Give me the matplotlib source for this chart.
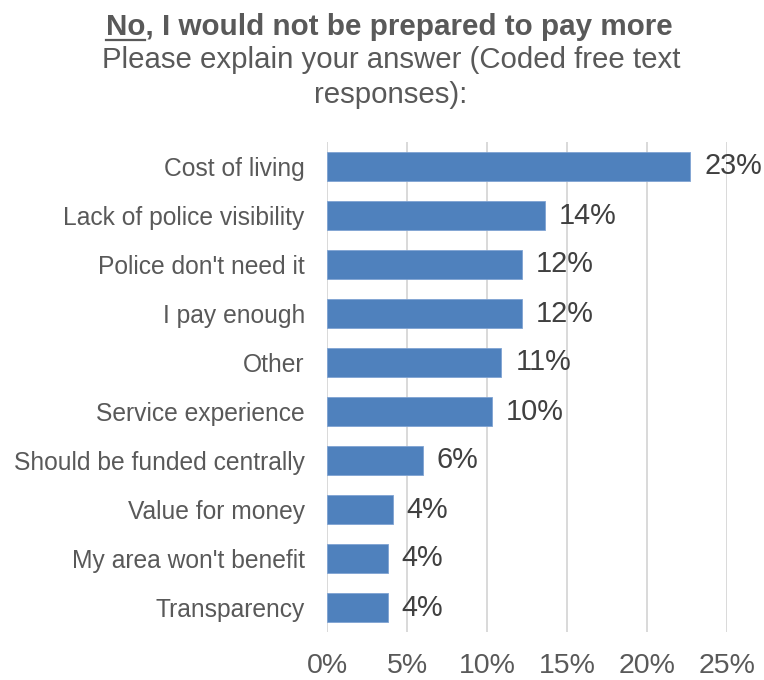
import matplotlib
matplotlib.use("Agg")
import matplotlib.pyplot as plt
from matplotlib.lines import Line2D

# --- data ---
categories = ["Cost of living", "Lack of police visibility", "Police don't need it",
              "I pay enough", "Other", "Service experience",
              "Should be funded centrally", "Value for money",
              "My area won't benefit", "Transparency"]
values = [22.7, 13.6, 12.2, 12.2, 10.9, 10.3, 6.0, 4.1, 3.8, 3.8]
xticks = [0, 5, 10, 15, 20, 25]

plt.rcParams['font.family'] = ['Liberation Sans', 'DejaVu Sans']
grey = '#595959'
bar_col = '#4F81BD'

fig = plt.figure(figsize=(7.64, 6.8), dpi=100)
ax = fig.add_axes([327 / 764, 1 - 632 / 680, 400 / 764, 490 / 680])

y = list(range(len(categories)))
bars = ax.barh(y, values, height=0.6, color=bar_col, edgecolor='#7FA3D3',
               linewidth=0.6, zorder=3)
ax.set_ylim(len(categories) - 0.5, -0.5)
ax.set_xlim(0, 25)

# value labels
for b, v in zip(bars, values):
    ax.annotate(f"{v:.0f}%", (b.get_width(), b.get_y() + b.get_height() / 2),
                xytext=(10, 0), textcoords='offset points', va='center',
                ha='left', fontsize=20.8, color='#404040')

ax.set_yticks(y)
ax.set_yticklabels(categories, fontsize=17.75, color=grey)
ax.set_xticks(xticks)
ax.set_xticklabels([f"{t}%" for t in xticks], fontsize=20.5, color=grey)
ax.tick_params(axis='y', length=0, pad=16)
ax.tick_params(axis='x', length=0, pad=14.8)

ax.grid(axis='x', color='#D9D9D9', linewidth=1.4, zorder=0)
for s in ax.spines.values():
    s.set_visible(False)

# title with underlined "No"
title_str = "No, I would not be prepared to pay more"
t = fig.text(389 / 764, 1 - 35 / 680, title_str, ha='center', va='baseline',
             fontsize=21.3, fontweight='bold', color=grey)
fig.text(391 / 764, 1 - 68 / 680, "Please explain your answer (Coded free text",
         ha='center', va='baseline', fontsize=21.2, color=grey)
fig.text(391 / 764, 1 - 103 / 680, "responses):", ha='center', va='baseline',
         fontsize=21.2, color=grey)

fig.canvas.draw()
r = fig.canvas.get_renderer()
tb = t.get_window_extent(r)
probe = fig.text(0, 0, "No", fontsize=21.3, fontweight='bold')
pw = probe.get_window_extent(r).width
probe.remove()
W = fig.bbox.width
uy = 1 - 39.5 / 680
fig.add_artist(Line2D([tb.x0 / W, (tb.x0 + pw) / W], [uy, uy],
                      transform=fig.transFigure, color=grey, linewidth=1.6))

fig.savefig("out.png", dpi=100)
